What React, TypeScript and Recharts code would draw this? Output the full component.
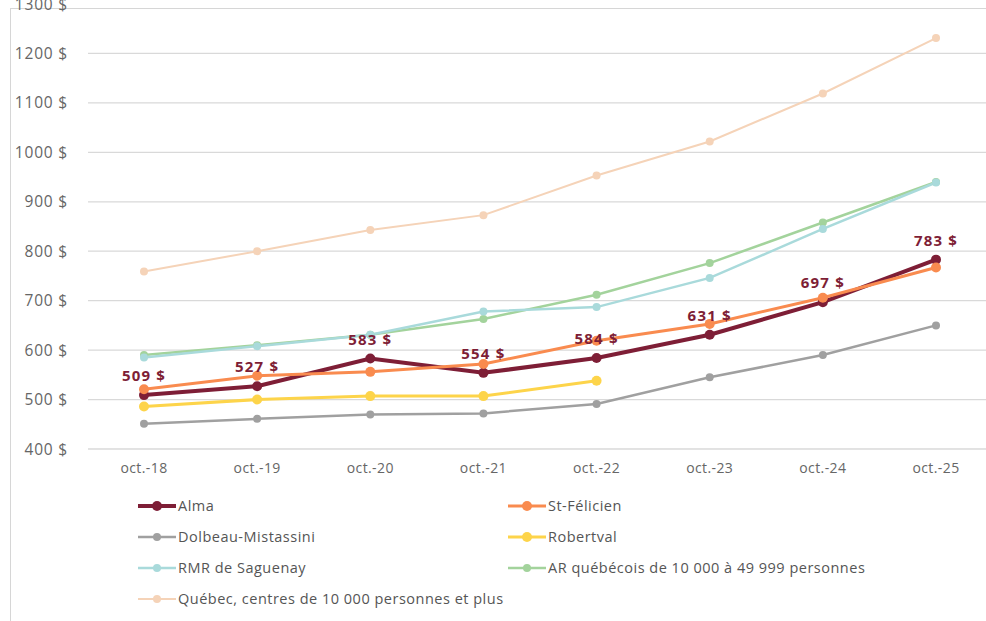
import React from "react";
import {
  LineChart,
  Line,
  XAxis,
  YAxis,
  CartesianGrid,
  LabelList,
} from "recharts";

const categories = ["oct.-18", "oct.-19", "oct.-20", "oct.-21", "oct.-22", "oct.-23", "oct.-24", "oct.-25"];

const alma = [509, 527, 583, 554, 584, 631, 697, 783];
const stFelicien = [521, 548, 556, 572, 619, 653, 706, 767];
const dolbeau = [451, 461, 470, 472, 491, 545, 590, 650];
const robertval = [486, 500, 507, 507, 538, null, null, null];
const saguenay = [585, 608, 631, 678, 687, 746, 845, 939];
const arQuebec = [590, 610, 631, 663, 712, 776, 858, 940];
const quebec = [759, 800, 843, 873, 953, 1022, 1119, 1231];

const yTicks = [400, 500, 600, 700, 800, 900, 1000, 1100, 1200, 1300];
const gridValues = [400, 500, 600, 700, 800, 900, 1000, 1100, 1200];

const series = [
  { key: "alma", name: "Alma", color: "#7E1E36", width: 4, r: 5 },
  { key: "stFelicien", name: "St-Félicien", color: "#F98B4F", width: 3, r: 5 },
  { key: "dolbeau", name: "Dolbeau-Mistassini", color: "#A0A0A0", width: 2.5, r: 4 },
  { key: "robertval", name: "Robertval", color: "#FDD44A", width: 3, r: 5 },
  { key: "saguenay", name: "RMR de Saguenay", color: "#A9DADB", width: 2.5, r: 4 },
  { key: "arQuebec", name: "AR québécois de 10 000 à 49 999 personnes", color: "#A3D39C", width: 2.5, r: 4 },
  { key: "quebec", name: "Québec, centres de 10 000 personnes et plus", color: "#F5D3B8", width: 2, r: 4 },
];

// drawing order: faint lines first, Alma near the top
const drawOrder = ["quebec", "arQuebec", "saguenay", "dolbeau", "robertval", "alma", "stFelicien"];

const data = categories.map((c, i) => ({
  label: c,
  alma: alma[i],
  stFelicien: stFelicien[i],
  dolbeau: dolbeau[i],
  robertval: robertval[i],
  saguenay: saguenay[i],
  arQuebec: arQuebec[i],
  quebec: quebec[i],
}));

const font = "'Open Sans', Roboto, sans-serif";

function LegendItem({ s }: { s: (typeof series)[number] }) {
  return (
    <div style={{ display: "flex", alignItems: "center", height: 31 }}>
      <svg width={38} height={14} style={{ marginRight: 2 }}>
        <line x1={0} y1={7} x2={38} y2={7} stroke={s.color} strokeWidth={s.width} />
        <circle cx={19} cy={7} r={s.r} fill={s.color} />
      </svg>
      <span style={{ fontSize: 14.5, color: "#555", fontFamily: font, letterSpacing: 0.5 }}>
        {s.name}
      </span>
    </div>
  );
}

export default function App() {
  const byKey = (k: string) => series.find((s) => s.key === k)!;
  return (
    <div
      style={{
        position: "absolute",
        left: 0,
        top: 0,
        width: 986,
        height: 621,
        overflow: "hidden",
        background: "#fff",
      }}
    >
      <div
        style={{
          position: "absolute",
          left: 10,
          top: 8,
          width: 990,
          height: 640,
          borderTop: "1px solid #d6d6d6",
          borderLeft: "1px solid #d6d6d6",
        }}
      />
      <div style={{ position: "absolute", left: 0, top: -16 }}>
        <LineChart
          width={1000}
          height={495}
          data={data}
          margin={{ top: 20, right: 8, left: 8, bottom: 0 }}
        >
          <CartesianGrid
            vertical={false}
            stroke="#d9d9d9"
            strokeWidth={1.2}
            horizontalValues={gridValues}
          />
          <XAxis
            dataKey="label"
            axisLine={{ stroke: "#d9d9d9" }}
            tickLine={false}
            tickSize={0}
            tickMargin={14}
            height={30}
            padding={{ left: 56, right: 56 }}
            tick={{ fontSize: 14, fill: "#666", fontFamily: font, letterSpacing: 0.4 }}
          />
          <YAxis
            domain={[400, 1300]}
            ticks={yTicks}
            axisLine={false}
            tickLine={false}
            tickSize={0}
            tickMargin={20}
            width={80}
            tick={{ fontSize: 15.5, fill: "#666", fontFamily: font, letterSpacing: 0.8 }}
            tickFormatter={(v) => `${v} $`}
          />
          {drawOrder.map((k) => {
            const s = byKey(k);
            return (
              <Line
                key={k}
                type="linear"
                dataKey={k}
                name={s.name}
                stroke={s.color}
                strokeWidth={s.width}
                dot={{ r: s.r, fill: s.color, stroke: s.color, strokeWidth: 0 }}
                activeDot={false}
                isAnimationActive={false}
              />
            );
          })}
          {/* Alma value labels drawn last so they sit over the other lines */}
          <Line
            dataKey="alma"
            stroke="none"
            dot={false}
            activeDot={false}
            legendType="none"
            isAnimationActive={false}
          >
            <LabelList
              dataKey="alma"
              position="top"
              offset={14}
              formatter={(v: number) => `${v} $`}
              style={{
                fontSize: 15,
                fontWeight: 700,
                fill: "#7E1E36",
                fontFamily: font,
                letterSpacing: 1.2,
              }}
            />
          </Line>
        </LineChart>
      </div>
      <div style={{ position: "absolute", left: 138, top: 490, width: 800 }}>
        <div style={{ display: "grid", gridTemplateColumns: "370px 430px" }}>
          {series.map((s) => (
            <LegendItem key={s.key} s={s} />
          ))}
        </div>
      </div>
    </div>
  );
}
